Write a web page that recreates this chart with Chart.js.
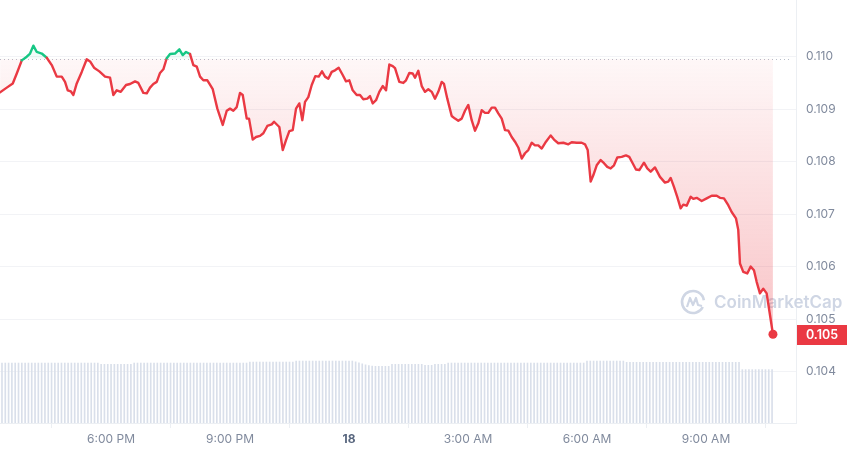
<!DOCTYPE html>
<html>
<head>
<meta charset="utf-8">
<script src="https://cdn.jsdelivr.net/npm/chart.js@4.4.1/dist/chart.umd.min.js"></script>
<style>
    html, body { margin: 0; padding: 0; background: #ffffff; }
    #wrap { position: relative; width: 850px; height: 453px; }
</style>
</head>
<body>
<div id="wrap"><canvas id="priceChart"></canvas></div>
<script>
const priceChart = document.getElementById('priceChart').getContext('2d');

// time in hours from midnight of the 17th (24 = midnight of the 18th)
const hours = [
    15.202, 15.371, 15.522, 15.623, 15.749, 15.875, 15.958, 16.041, 16.127, 16.253,
    16.379, 16.505, 16.631, 16.757, 16.840, 16.908, 16.984, 17.050, 17.135, 17.261,
    17.387, 17.471, 17.571, 17.705, 17.849, 17.975, 18.058, 18.144, 18.245, 18.378,
    18.479, 18.605, 18.688, 18.814, 18.900, 18.983, 19.066, 19.152, 19.235, 19.319,
    19.404, 19.487, 19.613, 19.722, 19.808, 19.891, 19.992, 20.075, 20.161, 20.244,
    20.327, 20.428, 20.564, 20.680, 20.816, 20.917, 21.000, 21.083, 21.169, 21.252,
    21.320, 21.421, 21.479, 21.572, 21.656, 21.756, 21.840, 21.940, 22.051, 22.109,
    22.243, 22.329, 22.412, 22.495, 22.581, 22.664, 22.747, 22.823, 22.891, 22.974,
    23.060, 23.150, 23.236, 23.319, 23.395, 23.478, 23.564, 23.647, 23.740, 23.841,
    23.924, 24.008, 24.093, 24.194, 24.277, 24.360, 24.461, 24.529, 24.597, 24.681,
    24.764, 24.850, 24.933, 25.016, 25.102, 25.160, 25.268, 25.369, 25.437, 25.520,
    25.606, 25.664, 25.747, 25.833, 25.916, 25.999, 26.085, 26.168, 26.251, 26.337,
    26.395, 26.478, 26.589, 26.672, 26.755, 26.841, 26.924, 27.008, 27.093, 27.176,
    27.260, 27.345, 27.429, 27.512, 27.598, 27.681, 27.764, 27.850, 27.933, 28.016,
    28.102, 28.185, 28.268, 28.354, 28.437, 28.520, 28.606, 28.689, 28.772, 28.858,
    28.966, 29.085, 29.168, 29.276, 29.403, 29.529, 29.614, 29.740, 29.866, 29.950,
    30.018, 30.093, 30.159, 30.245, 30.345, 30.429, 30.512, 30.597, 30.681, 30.764,
    30.875, 30.983, 31.066, 31.152, 31.235, 31.319, 31.437, 31.520, 31.606, 31.714,
    31.840, 31.966, 32.050, 32.110, 32.193, 32.276, 32.362, 32.428, 32.513, 32.614,
    32.680, 32.766, 32.892, 33.018, 33.144, 33.270, 33.353, 33.454, 33.562, 33.648,
    33.756, 33.814, 33.857, 33.940, 34.041, 34.127, 34.210, 34.278, 34.361, 34.444,
    34.530, 34.689
];
const prices = [
    0.10932, 0.10941, 0.10949, 0.10968, 0.10993, 0.11000, 0.11006, 0.11021, 0.11009, 0.11006,
    0.10998, 0.10984, 0.10962, 0.10962, 0.10952, 0.10936, 0.10934, 0.10927, 0.10949, 0.10971,
    0.10995, 0.10991, 0.10979, 0.10972, 0.10962, 0.10960, 0.10927, 0.10936, 0.10933, 0.10946,
    0.10948, 0.10953, 0.10950, 0.10931, 0.10930, 0.10941, 0.10948, 0.10952, 0.10969, 0.10976,
    0.10997, 0.11005, 0.11006, 0.11014, 0.11003, 0.11009, 0.11005, 0.10984, 0.10981, 0.10962,
    0.10955, 0.10955, 0.10938, 0.10901, 0.10870, 0.10897, 0.10901, 0.10897, 0.10904, 0.10931,
    0.10927, 0.10882, 0.10882, 0.10842, 0.10847, 0.10849, 0.10854, 0.10868, 0.10871, 0.10876,
    0.10866, 0.10822, 0.10841, 0.10858, 0.10860, 0.10901, 0.10911, 0.10879, 0.10914, 0.10923,
    0.10946, 0.10963, 0.10962, 0.10972, 0.10962, 0.10958, 0.10971, 0.10974, 0.10979, 0.10965,
    0.10953, 0.10955, 0.10936, 0.10927, 0.10927, 0.10919, 0.10920, 0.10925, 0.10911, 0.10917,
    0.10933, 0.10944, 0.10936, 0.10985, 0.10982, 0.10978, 0.10952, 0.10950, 0.10955, 0.10969,
    0.10968, 0.10960, 0.10973, 0.10944, 0.10933, 0.10938, 0.10933, 0.10920, 0.10933, 0.10952,
    0.10948, 0.10920, 0.10887, 0.10882, 0.10878, 0.10882, 0.10897, 0.10908, 0.10879, 0.10859,
    0.10873, 0.10898, 0.10893, 0.10893, 0.10903, 0.10903, 0.10892, 0.10882, 0.10860, 0.10859,
    0.10847, 0.10838, 0.10827, 0.10806, 0.10816, 0.10822, 0.10836, 0.10831, 0.10831, 0.10825,
    0.10838, 0.10850, 0.10842, 0.10835, 0.10836, 0.10833, 0.10837, 0.10836, 0.10836, 0.10833,
    0.10822, 0.10762, 0.10774, 0.10793, 0.10803, 0.10797, 0.10790, 0.10787, 0.10793, 0.10808,
    0.10809, 0.10812, 0.10809, 0.10797, 0.10785, 0.10784, 0.10798, 0.10787, 0.10781, 0.10789,
    0.10771, 0.10760, 0.10762, 0.10769, 0.10752, 0.10733, 0.10711, 0.10718, 0.10716, 0.10733,
    0.10729, 0.10731, 0.10725, 0.10730, 0.10735, 0.10735, 0.10731, 0.10730, 0.10717, 0.10704,
    0.10692, 0.10670, 0.10606, 0.10590, 0.10587, 0.10600, 0.10593, 0.10571, 0.10549, 0.10558,
    0.10549, 0.10471
];
const openPrice = 0.10996;

// 24h volume (millions), one bar every 5 minutes from 15:15
const volStart = 15.25;
const volStep = 1 / 12;
const volumes = [
    6.03, 6.03, 6.03, 6.03, 6.03, 6.03, 6.03, 6.03, 6.03, 6.03,
    6.03, 6.03, 6.03, 6.03, 6.03, 6.03, 6.03, 6.03, 6.03, 6.03,
    6.03, 6.03, 6.03, 6.03, 6.03, 6.03, 6.03, 6.03, 6.03, 6.03,
    5.90, 5.90, 5.90, 5.90, 5.90, 5.90, 5.90, 5.90, 5.90, 5.90,
    6.03, 6.03, 6.03, 6.03, 6.03, 6.03, 6.03, 6.03, 6.03, 6.03,
    6.03, 6.03, 6.03, 6.03, 6.03, 6.03, 6.03, 6.03, 6.03, 6.03,
    6.03, 6.03, 6.03, 6.03, 6.03, 6.03, 6.03, 6.03, 6.03, 6.03,
    6.03, 6.03, 6.03, 6.03, 6.03,
    6.13, 6.13, 6.13, 6.13, 6.13, 6.13, 6.13, 6.13, 6.13, 6.13, 6.13, 6.13, 6.13, 6.13,
    6.23, 6.23, 6.23, 6.23, 6.23, 6.23, 6.23, 6.23, 6.23, 6.23,
    6.23, 6.23, 6.23, 6.23, 6.23, 6.23, 6.23, 6.23,
    6.15, 6.05, 5.95, 5.85, 5.78, 5.72, 5.70,
    5.70, 5.70, 5.70, 5.70,
    5.90, 5.90, 5.90, 5.90, 5.90, 5.90, 5.90, 5.90, 5.90, 5.90,
    5.80, 5.80, 5.80,
    5.90, 5.90, 5.90, 5.90,
    6.03, 6.03, 6.03, 6.03, 6.03, 6.03, 6.03, 6.03, 6.03, 6.03,
    6.03, 6.03, 6.03, 6.03, 6.03, 6.03, 6.03, 6.03, 6.03, 6.03,
    6.03, 6.03, 6.03, 6.03, 6.03, 6.03, 6.03, 6.03, 6.03, 6.03,
    6.03, 6.03, 6.03, 6.03, 6.03, 6.03, 6.03, 6.03, 6.03, 6.03,
    6.03, 6.03,
    6.23, 6.23, 6.23, 6.23, 6.23, 6.23, 6.23, 6.23, 6.23, 6.23, 6.23, 6.23,
    6.10, 6.10, 6.10, 6.10, 6.10, 6.10, 6.10, 6.10, 6.10, 6.10,
    6.10, 6.10, 6.10, 6.10, 6.10, 6.10, 6.10, 6.10, 6.10, 6.10,
    6.10, 6.10, 6.10, 6.10, 6.10, 6.10, 6.10, 6.10, 6.10, 6.10,
    6.10, 6.10, 6.10, 6.10, 6.10,
    5.37, 5.37, 5.37, 5.37, 5.37, 5.37, 5.37, 5.37, 5.37, 5.37
];

const tickHours = [18, 21, 24, 27, 30, 33];
const tickLabels = ['6:00 PM', '9:00 PM', '18', '3:00 AM', '6:00 AM', '9:00 AM'];
const priceTicks = [0.104, 0.105, 0.106, 0.107, 0.108, 0.109, 0.110];

const RED = '#ea3943';
const GREEN = '#16c784';
const FONT = 'Inter, "Noto Sans", sans-serif';

const priceData = hours.map((h, i) => ({ x: h, y: prices[i] }));
const volumeData = volumes.map((v, i) => ({ x: volStart + i * volStep, y: v }));
const lastIndex = prices.length - 1;

const chartDecor = {
    id: 'chartDecor',
    beforeDatasetsDraw(chart) {
        const { ctx, chartArea, scales } = chart;
        const y = Math.round(scales.y.getPixelForValue(openPrice)) + 0.5;

        // dotted open-price line
        ctx.save();
        ctx.strokeStyle = '#b8bec9';
        ctx.lineWidth = 1;
        ctx.setLineDash([1, 3]);
        ctx.beginPath();
        ctx.moveTo(chartArea.left, y);
        ctx.lineTo(chartArea.right - 4, y);
        ctx.stroke();
        ctx.restore();

        // watermark
        ctx.save();
        const cx = 693, cy = 302;
        ctx.strokeStyle = '#cfd6e4';
        ctx.lineWidth = 2.6;
        ctx.beginPath();
        ctx.arc(cx, cy, 11, Math.PI * 0.15, Math.PI * 1.95);
        ctx.stroke();
        ctx.lineWidth = 2.2;
        ctx.lineJoin = 'round';
        ctx.beginPath();
        ctx.moveTo(cx - 6, cy + 5);
        ctx.lineTo(cx - 3, cy - 4);
        ctx.lineTo(cx, cy + 3);
        ctx.lineTo(cx + 3, cy - 4);
        ctx.lineTo(cx + 5, cy + 3);
        ctx.lineTo(cx + 9, cy + 4);
        ctx.stroke();
        ctx.fillStyle = '#cfd6e4';
        ctx.font = '600 17px ' + FONT;
        ctx.textAlign = 'left';
        ctx.textBaseline = 'middle';
        ctx.fillText('CoinMarketCap', 714, cy + 1);
        ctx.restore();
    },
    afterDraw(chart) {
        const { ctx, chartArea, scales } = chart;
        const last = prices[lastIndex];
        const y = scales.y.getPixelForValue(last);
        const x = chartArea.right + 1;

        ctx.save();
        ctx.fillStyle = RED;
        ctx.fillRect(x, Math.round(y - 9), 50, 20);
        ctx.fillStyle = '#ffffff';
        ctx.font = '600 12.5px ' + FONT;
        ctx.textAlign = 'center';
        ctx.textBaseline = 'middle';
        ctx.fillText(last.toFixed(3), x + 25, Math.round(y) + 1);
        ctx.restore();
    }
};

new Chart(priceChart, {
    type: 'line',
    data: {
        datasets: [{
            type: 'line',
            label: 'Price',
            data: priceData,
            yAxisID: 'y',
            order: 1,
            borderColor: RED,
            borderWidth: 2.4,
            borderJoinStyle: 'round',
            borderCapStyle: 'round',
            tension: 0,
            clip: 6,
            pointRadius: (context) => context.dataIndex === lastIndex ? 4.5 : 0,
            pointBackgroundColor: RED,
            pointBorderWidth: 0,
            segment: {
                borderColor: (context) => (context.p0.parsed.y + context.p1.parsed.y) / 2 > openPrice ? GREEN : RED
            },
            fill: {
                value: openPrice,
                above: 'rgba(22, 199, 132, 0.06)'
            },
            backgroundColor: (context) => {
                const chart = context.chart;
                const { ctx, chartArea, scales } = chart;
                if (!chartArea) return null;
                const top = scales.y.getPixelForValue(openPrice);
                const bottom = scales.y.getPixelForValue(prices[lastIndex]);
                const gradient = ctx.createLinearGradient(0, top, 0, bottom);
                gradient.addColorStop(0, 'rgba(234, 57, 67, 0.04)');
                gradient.addColorStop(1, 'rgba(234, 57, 67, 0.30)');
                return gradient;
            }
        }, {
            type: 'bar',
            label: 'Volume',
            data: volumeData,
            yAxisID: 'vol',
            order: 2,
            backgroundColor: '#d9dfea',
            borderWidth: 0,
            barPercentage: 0.5,
            categoryPercentage: 1
        }]
    },
    plugins: [chartDecor],
    options: {
        responsive: true,
        maintainAspectRatio: false,
        animation: false,
        layout: { padding: 0, autoPadding: false },
        plugins: {
            legend: { display: false },
            tooltip: { enabled: false }
        },
        scales: {
            x: {
                type: 'linear',
                min: 15.2,
                max: 35.27,
                offset: false,
                afterBuildTicks: (axis) => {
                    axis.ticks = tickHours.map(v => ({ value: v }));
                },
                afterFit: (axis) => {
                    axis.height = 30;
                    axis.paddingLeft = 0;
                    axis.paddingRight = 0;
                },
                grid: {
                    drawOnChartArea: false,
                    drawTicks: true,
                    tickLength: 5,
                    tickColor: '#eceff3'
                },
                border: { display: true, color: '#eceff3' },
                ticks: {
                    autoSkip: false,
                    maxRotation: 0,
                    padding: 4,
                    color: (context) => context.tick && context.tick.value === 24 ? '#58667e' : '#808a9d',
                    font: (context) => ({
                        family: FONT,
                        size: 12,
                        weight: context.tick && context.tick.value === 24 ? 'bold' : 'normal'
                    }),
                    callback: (value) => {
                        const i = tickHours.indexOf(value);
                        return i >= 0 ? tickLabels[i] : '';
                    }
                }
            },
            y: {
                position: 'right',
                min: 0.10302,
                max: 0.11108,
                afterBuildTicks: (axis) => {
                    axis.ticks = priceTicks.map(v => ({ value: v }));
                },
                afterFit: (axis) => {
                    axis.width = 54;
                    axis.paddingTop = 0;
                    axis.paddingBottom = 0;
                },
                grid: {
                    color: '#f2f3f6',
                    drawTicks: false
                },
                border: { display: true, color: '#eceff3' },
                ticks: {
                    padding: 10,
                    color: '#808a9d',
                    font: { family: FONT, size: 12 },
                    callback: (value) => value.toFixed(3)
                }
            },
            vol: {
                display: false,
                min: 0,
                max: 42.3
            }
        }
    }
});
</script>
</body>
</html>
